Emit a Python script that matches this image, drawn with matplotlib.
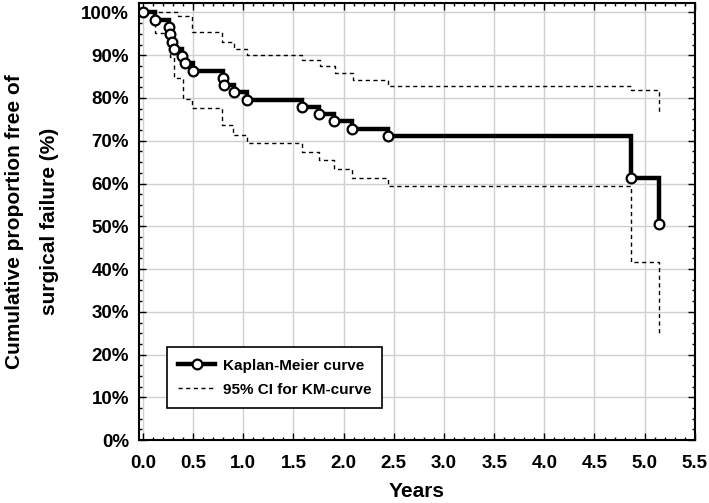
import matplotlib.pyplot as plt
from matplotlib.lines import Line2D
from matplotlib.ticker import MultipleLocator, FuncFormatter

plt.rcParams['font.family'] = ['Liberation Sans', 'DejaVu Sans']

# Kaplan-Meier estimate (years, % free of surgical failure)
km_years = [0.0, 0.12, 0.26, 0.27, 0.285, 0.31, 0.385, 0.42, 0.50, 0.80, 0.81,
            0.905, 1.04, 1.58, 1.75, 1.90, 2.08, 2.44, 4.86, 5.14]
km_surv = [100, 98.3, 96.6, 94.9, 93.2, 91.5, 89.8, 88.1, 86.4, 84.7, 83.0,
           81.3, 79.6, 77.9, 76.2, 74.5, 72.8, 71.1, 61.3, 50.5]

# 95% CI bounds
ci_up_years = [0.0, 0.35, 0.49, 0.79, 0.91, 1.04, 1.58, 1.76, 1.91, 2.09, 2.44, 4.86, 5.14]
ci_up = [100, 99.1, 95.5, 93.0, 91.4, 90.1, 88.8, 87.4, 85.8, 84.3, 82.9, 81.8, 76.8]

ci_lo_years = [0.0, 0.12, 0.27, 0.31, 0.40, 0.49, 0.79, 0.90, 1.04, 1.58, 1.75,
               1.90, 2.08, 2.44, 4.86, 5.14]
ci_lo = [100, 95.2, 89.5, 84.7, 79.8, 77.7, 73.6, 71.4, 69.4, 67.4, 65.4,
         63.4, 61.4, 59.4, 41.7, 24.5]

fig = plt.figure(figsize=(7.09, 5.03), dpi=100)
ax = fig.add_axes([0.196, 0.125, 0.784, 0.869])

dash = (0, (3.0, 2.5))
ax.step(ci_up_years, ci_up, where='post', color='black', lw=1.0, linestyle=dash)
ax.step(ci_lo_years, ci_lo, where='post', color='black', lw=1.0, linestyle=dash)
ax.step(km_years, km_surv, where='post', color='black', lw=3.2, solid_joinstyle='miter')
ax.plot(km_years, km_surv, 'o', ms=7, mfc='white', mec='black', mew=1.6)

ax.set_xlim(-0.04, 5.5)
ax.set_ylim(0, 102.2)
ax.xaxis.set_major_locator(MultipleLocator(0.5))
ax.xaxis.set_minor_locator(MultipleLocator(0.1))
ax.yaxis.set_major_locator(MultipleLocator(10))
ax.yaxis.set_minor_locator(MultipleLocator(2.5))
ax.xaxis.set_major_formatter(FuncFormatter(lambda v, p: f'{v:.1f}'))
ax.yaxis.set_major_formatter(FuncFormatter(lambda v, p: f'{v:.0f}%'))

ax.tick_params(which='both', direction='in', top=True, right=True, width=1)
ax.tick_params(which='major', length=5, labelsize=13.5)
ax.tick_params(axis='x', which='major', pad=11)
ax.tick_params(axis='y', which='major', pad=7)
ax.tick_params(which='minor', length=2.5)
for lab in ax.get_xticklabels() + ax.get_yticklabels():
    lab.set_fontweight('bold')
for s in ax.spines.values():
    s.set_linewidth(1.5)

ax.grid(True, which='major', color='#d0d0d0', lw=1.0)
ax.set_axisbelow(True)

ax.set_xlabel('Years', fontsize=15, fontweight='bold', labelpad=7)
ax.set_ylabel('Cumulative proportion free of\nsurgical failure (%)', fontsize=15,
              fontweight='bold', labelpad=16, linespacing=2.05)

handles = [
    Line2D([], [], color='black', lw=3.2, marker='o', ms=7, mfc='white', mec='black', mew=1.6),
    Line2D([], [], color='black', lw=1.0, linestyle=dash),
]
leg = ax.legend(handles, ['Kaplan-Meier curve', '95% CI for KM-curve'],
                loc='lower left', bbox_to_anchor=(0.05, 0.073), borderaxespad=0,
                frameon=True, fancybox=False, edgecolor='black', framealpha=1,
                prop={'weight': 'bold', 'size': 11}, handlelength=2.4,
                handletextpad=0.5, borderpad=0.75, labelspacing=0.65)
leg.get_frame().set_linewidth(1.2)

fig.savefig('out.png', dpi=100)
